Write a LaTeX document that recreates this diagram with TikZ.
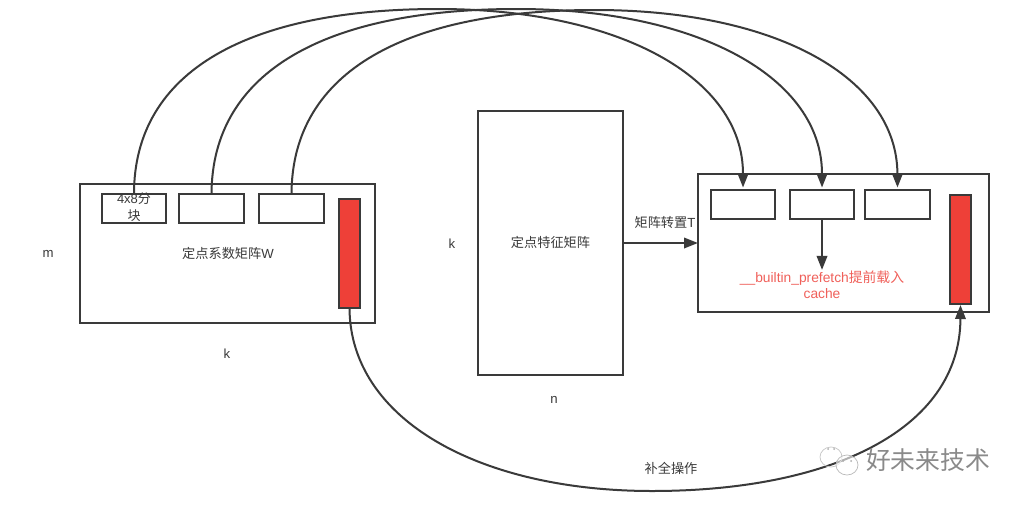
\documentclass[tikz,border=0pt]{standalone}
\usepackage{fontspec}
\setmainfont{Liberation Sans}
\newfontfamily\cjk{Noto Sans CJK SC}
\usetikzlibrary{arrows.meta}
\definecolor{ink}{HTML}{3A3A3A}
\definecolor{redfill}{HTML}{EE4038}
\definecolor{redtext}{HTML}{F0605A}
\definecolor{wm}{HTML}{8A8A8A}
\tikzset{
  box/.style={draw=ink,line width=2pt,inner sep=0pt,outer sep=0pt,fill=white},
  block/.style={box,minimum width=64.5pt,minimum height=29pt,align=center},
  redbar/.style={draw=ink,line width=1.6pt,inner sep=0pt,outer sep=0pt,fill=redfill,minimum width=21pt,minimum height=109pt},
  lbl/.style={inner sep=0pt,text=ink,align=center,font=\fontsize{13.2}{16}\selectfont},
  conn/.style={draw=ink,line width=2pt},
  arr/.style={conn,-{Triangle[length=14pt,width=10.5pt]}},
  topin/.style={arr,shorten >=2.5pt},
}
\begin{document}
\begin{tikzpicture}[x=1pt,y=-1pt]
\useasboundingbox (0,0) rectangle (1024,506);
\fill[white] (0,0) rectangle (1024,506);
% outer boxes
\node[box,minimum width=295pt,minimum height=139pt] (W) at (227.5,253.5) {};
\node[box,minimum width=145pt,minimum height=264pt] (F) at (550.5,243) {};
\node[box,minimum width=291pt,minimum height=138pt] (R) at (843.5,243) {};
% left blocks
\node[block] (a1) at (134,208.5) {};
\node[block] (a2) at (211.5,208.5) {};
\node[block] (a3) at (291.5,208.5) {};
\node[inner sep=0pt,text=ink,align=center,font=\fontsize{13}{17}\selectfont] (a1t) at (134,207) {4x8{\cjk 分}\\{\cjk 块}};
\node[redbar] (rl) at (349.5,253.5) {};
% right blocks
\node[block] (b1) at (743,204.5) {};
\node[block] (b2) at (822,204.5) {};
\node[block] (b3) at (897.5,204.5) {};
\node[redbar] (rr) at (960.5,249.5) {};
% labels
\node[lbl] (tw) at (228,253) {{\cjk 定点系数矩阵}W};
\node[lbl] (tf) at (550.5,242) {{\cjk 定点特征矩阵}};
\node[lbl] (tt) at (665,222) {{\cjk 矩阵转置}T};
\node[lbl,text=redtext,font=\fontsize{13.8}{16}\selectfont] (tp) at (822,285) {\_\_builtin\_prefetch{\cjk 提前载入}\\cache};
\node[lbl] (tb) at (671,468) {{\cjk 补全操作}};
\node[lbl] (lm) at (48,254) {m};
\node[lbl] (lk1) at (227,354) {k};
\node[lbl] (lk2) at (452,244) {k};
\node[lbl] (ln) at (554,400) {n};
% connectors
\draw[arr] (F.east) -- (R.west);
\draw[arr,shorten >=1pt] (b2.south) -- (tp.north -| b2.south);
\draw[topin] (a1.north) .. controls (134,70) and (250,9) .. (438,9) .. controls (620,9) and (743,78) .. (b1.north);
\draw[topin] (a2.north) .. controls (212,70) and (328,9) .. (517,9) .. controls (699,9) and (822,78) .. (b2.north);
\draw[topin] (a3.north) .. controls (292,70) and (408,10) .. (595,10) .. controls (777,10) and (897,78) .. (b3.north);
\draw[arr,shorten >=1pt] (rl.south) .. controls (350,420) and (480,491) .. (652,491) .. controls (830,491) and (960,430) .. (rr.south);
% watermark
\node[inner sep=0pt,text=wm,font=\fontsize{24.8}{28}\selectfont\cjk] (wt) at (928,460) {好未来技术};
\draw[white,line width=3pt,opacity=.55] (824,464) -- (846,456);
\draw[wm!50,line width=.7pt] (831,457) ellipse (11pt and 10pt);
\draw[wm!60,line width=.7pt,fill=white,fill opacity=.6] (847,465) ellipse (11pt and 10pt);
\fill[wm!70] (828,449) circle (1pt) (834,449) circle (1pt) (843,461) circle (1pt) (851,461) circle (1pt);
\end{tikzpicture}
\end{document}
